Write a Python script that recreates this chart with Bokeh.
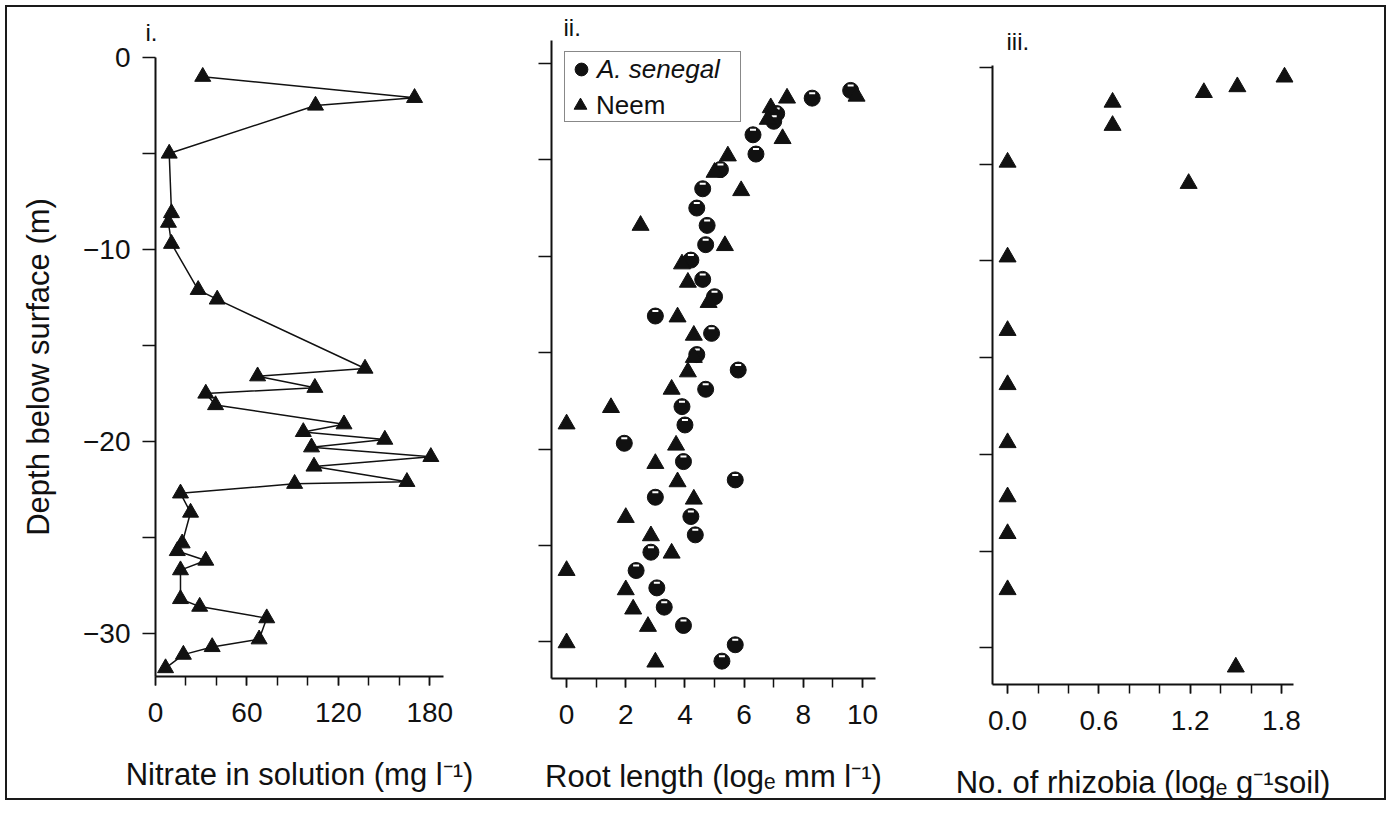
from bokeh.plotting import figure
from bokeh.layouts import row
from bokeh.models import (ColumnDataSource, FixedTicker, Legend, LegendItem,
                          PrintfTickFormatter, Range1d)
from bokeh.transform import dodge
from bokeh.embed import file_html
from bokeh.resources import INLINE

# ---- panel i: nitrate in soil solution vs depth ----
nitrate_depth = [-1.0, -2.1, -2.5, -5.0, -8.1, -8.6, -9.7, -12.1, -12.6, -16.2,
                 -16.6, -17.2, -17.5, -18.1, -19.1, -19.5, -19.9, -20.3, -20.8,
                 -21.3, -22.1, -22.2, -22.7, -23.7, -25.3, -25.7, -26.2, -26.7,
                 -28.2, -28.6, -29.2, -30.3, -30.7, -31.1, -31.8]
nitrate_mg = [31, 170, 105, 9, 10.5, 8.5, 10.5, 28, 40.5, 137.5,
              67, 104.6, 33, 39.4, 123.7, 97, 150.5, 102.4, 180.7,
              104, 165, 91.3, 16.4, 23, 17.5, 14.3, 33, 16.4,
              16.4, 29, 73, 68, 37.2, 18.3, 6.6]

# ---- panel ii: root length (log_e mm per litre) ----
senegal_depth = [-1.4, -1.8, -2.6, -3.0, -3.7, -4.7, -5.5, -6.5, -7.5, -8.4,
                 -9.4, -10.2, -11.2, -12.1, -13.1, -14.0, -15.1, -15.9, -16.9,
                 -17.8, -18.75, -19.7, -20.65, -21.6, -22.5, -23.5, -24.45,
                 -25.35, -26.3, -27.2, -28.2, -29.15, -30.15, -31.0]
senegal_root = [9.6, 8.3, 7.1, 7.0, 6.3, 6.4, 5.2, 4.6, 4.4, 4.75,
                4.7, 4.2, 4.6, 5.0, 3.0, 4.9, 4.4, 5.8, 4.7,
                3.9, 4.0, 1.95, 3.95, 5.7, 3.0, 4.2, 4.35,
                2.85, 2.35, 3.05, 3.3, 3.95, 5.7, 5.25]
neem_depth = [-1.7, -1.8, -2.3, -2.9, -3.9, -4.8, -5.65, -6.6, -8.4, -9.45,
              -10.4, -11.35, -12.4, -13.15, -14.1, -15.25, -16.0, -16.9, -17.85,
              -18.7, -19.8, -20.75, -21.7, -22.6, -23.55, -24.5, -25.4, -26.3,
              -27.3, -28.3, -29.2, -30.05, -31.05]
neem_root = [9.8, 7.45, 6.9, 6.8, 7.3, 5.45, 5.0, 5.9, 2.5, 5.35,
             3.9, 4.1, 4.8, 3.75, 4.3, 4.3, 4.1, 3.55, 1.5,
             0.0, 3.7, 3.0, 3.75, 4.3, 2.0, 2.85, 3.55, 0.0,
             2.0, 2.25, 2.75, 0.0, 3.0]

# ---- panel iii: rhizobia counts (log_e per g soil) ----
rhizobia_depth = [-0.5, -1.0, -1.3, -1.8, -3.0, -4.9, -6.0, -9.8, -13.6,
                  -16.4, -19.4, -22.2, -24.1, -27.0, -31.0]
rhizobia_log = [1.82, 1.51, 1.29, 0.69, 0.69, 0.0, 1.19, 0.0, 0.0,
                0.0, 0.0, 0.0, 0.0, 0.0, 1.5]

# tick positions and labels
depth_labelled = [0, -10, -20, -30]
depth_every5 = [0, -5, -10, -15, -20, -25, -30]
nitrate_labelled = [0, 60, 120, 180]
nitrate_ticks = [0, 20, 40, 60, 80, 100, 120, 140, 160, 180]
root_labelled = [0, 2, 4, 6, 8, 10]
root_ticks = [0, 1, 2, 3, 4, 5, 6, 7, 8, 9, 10]
rhiz_labelled = [0.0, 0.6, 1.2, 1.8]
rhiz_ticks = [0.0, 0.2, 0.4, 0.6, 0.8, 1.0, 1.2, 1.4, 1.6, 1.8]

FONT = "Liberation Sans"
INK = "#111111"
H = 805


def panel(width, xr, yr, left, right, top, bottom, tag, tag_offset, tag_standoff):
    p = figure(width=width, height=H, x_range=Range1d(*xr), y_range=Range1d(*yr),
               output_backend="svg", toolbar_location=None, title=tag,
               min_border_left=left, min_border_right=right,
               min_border_top=top, min_border_bottom=bottom)
    p.frame_align = False
    p.outline_line_color = None
    p.grid.visible = False
    p.background_fill_color = None
    p.border_fill_color = None
    p.title.align = "left"
    p.title.offset = tag_offset
    p.title.standoff = tag_standoff
    p.title.text_font = FONT
    p.title.text_font_size = "24px"
    p.title.text_font_style = "normal"
    p.title.text_color = INK
    for ax in (p.xaxis[0], p.yaxis[0]):
        ax.axis_line_width = 2
        ax.axis_line_color = INK
        ax.major_tick_line_color = INK
        ax.minor_tick_line_color = INK
        ax.major_tick_line_width = 1.5
        ax.minor_tick_line_width = 1.5
        ax.major_tick_in = 0
        ax.minor_tick_in = 0
        ax.major_label_text_font = FONT
        ax.major_label_text_font_size = "28px"
        ax.major_label_text_color = INK
        ax.axis_label_text_font = FONT
        ax.axis_label_text_font_size = "31px"
        ax.axis_label_text_font_style = "normal"
        ax.axis_label_text_color = INK
    p.xaxis.major_tick_out = 9
    p.xaxis.minor_tick_out = 9
    p.yaxis.major_tick_out = 13
    p.yaxis.minor_tick_out = 13
    p.xaxis.major_label_standoff = 17
    p.xaxis.axis_label_standoff = 32
    return p


# ---------------- panel i ----------------
p1 = panel(480, (0, 189), (-32.24, 0), 155, 37, 57, 129, "i.", -10, 24)
src1 = ColumnDataSource(dict(mg=nitrate_mg, depth=nitrate_depth))
p1.line("mg", "depth", source=src1, line_color=INK, line_width=1.5)
p1.scatter("mg", "depth", source=src1, marker="triangle", size=16,
           fill_color=INK, line_color=INK)
p1.xaxis.ticker = FixedTicker(ticks=nitrate_labelled, minor_ticks=nitrate_ticks)
p1.yaxis.ticker = FixedTicker(ticks=depth_labelled, minor_ticks=[-5, -15, -25])
p1.yaxis.major_label_overrides = {-10: "\u221210", -20: "\u221220", -30: "\u221230"}
p1.yaxis.major_label_standoff = 12
p1.yaxis.axis_label_standoff = 24
p1.xaxis.axis_label = "Nitrate in solution (mg l\u207b\u00b9)"
p1.yaxis.axis_label = "Depth below surface (m)"

# ---------------- panel ii ----------------
p2 = panel(420, (-0.51, 10.44), (-31.9, 1.19), 71, 25, 40, 127, "ii.", 12, 0)
src_sen = ColumnDataSource(dict(root=senegal_root, depth=senegal_depth))
src_neem = ColumnDataSource(dict(root=neem_root, depth=neem_depth))
r_sen = p2.scatter("root", "depth", source=src_sen, marker="circle", size=16,
                   fill_color=INK, line_color=INK)
# small white sheen on each sphere-like marker
p2.scatter("root", dodge("depth", 0.26), source=src_sen, marker="dash", size=6,
           line_color="white", line_width=2)
r_neem = p2.scatter("root", "depth", source=src_neem, marker="triangle", size=17,
                    fill_color=INK, line_color=INK)
r_blank = p2.scatter(x=[], y=[], marker="triangle", fill_alpha=0, line_alpha=0)
p2.xaxis.ticker = FixedTicker(ticks=root_labelled, minor_ticks=root_ticks)
p2.yaxis.ticker = FixedTicker(ticks=[], minor_ticks=depth_every5)
p2.xaxis.axis_label = "Root length (log\u2091 mm l\u207b\u00b9)"


def legend_box(items, style, fill_alpha, border):
    lg = Legend(items=items, location=(13, 556), orientation="vertical",
                padding=0, spacing=1, margin=0,
                glyph_width=32, glyph_height=34, label_height=34,
                label_width=143, label_standoff=0,
                label_text_font=FONT, label_text_font_size="26px",
                label_text_font_style=style, label_text_color=INK,
                background_fill_color="white", background_fill_alpha=fill_alpha,
                border_line_color=INK if border else None, border_line_width=1.5)
    return lg


# italic species name on the first row, upright "Neem" overlaid on the second
leg_a = legend_box([LegendItem(label="A. senegal", renderers=[r_sen]),
                    LegendItem(label=" ", renderers=[r_blank])], "italic", 1.0, True)
leg_n = legend_box([LegendItem(label="Neem", renderers=[r_neem])], "normal", 0.0, False)
p2.add_layout(leg_a)
p2.add_layout(leg_n)

# ---------------- panel iii ----------------
p3 = panel(491, (-0.099, 1.879), (-31.9, 0.1), 92, 98, 65, 121, "iii.", 14, 22)
src3 = ColumnDataSource(dict(rhiz=rhizobia_log, depth=rhizobia_depth))
p3.scatter("rhiz", "depth", source=src3, marker="triangle", size=17,
           fill_color=INK, line_color=INK)
p3.xaxis.ticker = FixedTicker(ticks=rhiz_labelled, minor_ticks=rhiz_ticks)
p3.xaxis.formatter = PrintfTickFormatter(format="%.1f")
p3.yaxis.ticker = FixedTicker(ticks=[], minor_ticks=depth_every5)
p3.xaxis.axis_label = "No. of rhizobia (log\u2091 g\u207b\u00b9soil)"

# outer frame around the whole figure
layout = row(p1, p2, p3, spacing=0,
             styles={"outline": "2px solid #1a1a1a", "outline-offset": "-7px",
                     "background-color": "white"})

open("out.html", "w").write(file_html(layout, INLINE))
